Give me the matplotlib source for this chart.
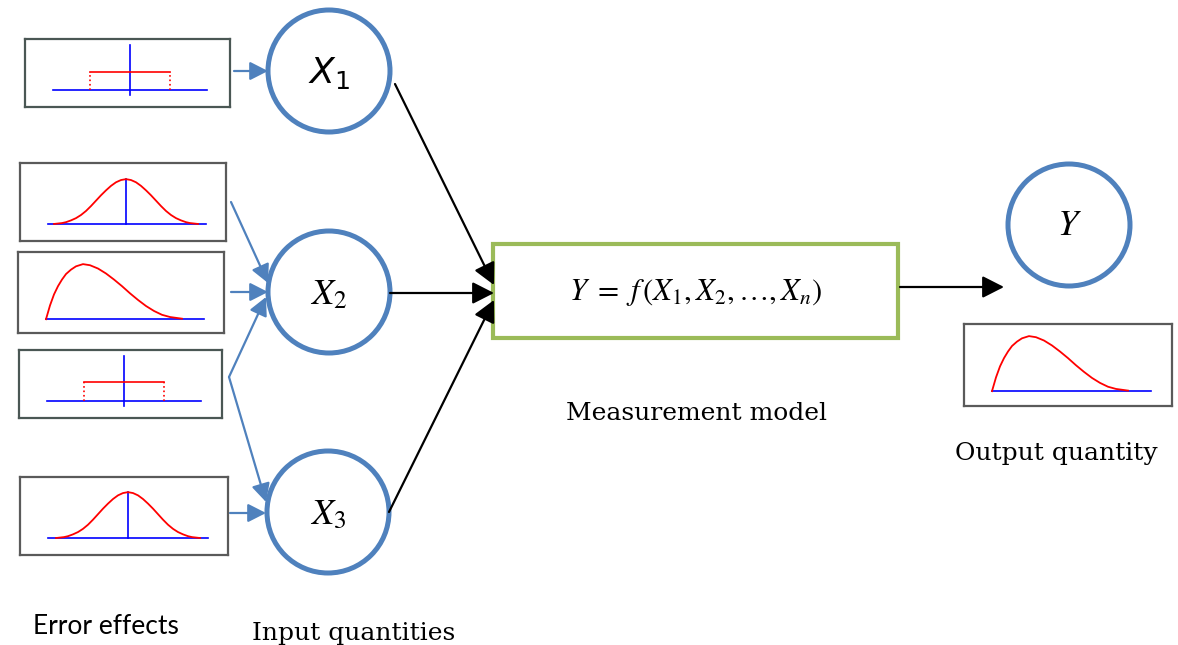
import matplotlib
matplotlib.use("Agg")
import matplotlib.pyplot as plt
from matplotlib.patches import Circle, Rectangle

W, H = 1178, 645

# distribution shapes (x in panel units, y relative to peak)
gauss_x = [-3.6, -3.2, -3.0, -2.75, -2.5, -2.25, -2.0, -1.75, -1.5, -1.25, -1.0, -0.75, -0.5, -0.25, 0.0,
           0.25, 0.5, 0.75, 1.0, 1.25, 1.5, 1.75, 2.0, 2.25, 2.5, 2.75, 3.0, 3.2, 3.6]
gauss_y = [0.0, 0.02, 0.04, 0.08, 0.13, 0.2, 0.29, 0.4, 0.52, 0.64, 0.75, 0.85, 0.93, 0.98, 1.0,
           0.98, 0.93, 0.85, 0.75, 0.64, 0.52, 0.4, 0.29, 0.2, 0.13, 0.08, 0.04, 0.02, 0.0]
skew_x = [0.0, 0.2, 0.4, 0.6, 0.8, 1.0, 1.25, 1.5, 1.85, 2.2, 2.6, 3.0, 3.4, 3.8, 4.2, 4.6, 5.0, 5.4,
          5.8, 6.2, 6.8]
skew_y = [0.0, 0.25, 0.45, 0.6, 0.72, 0.82, 0.9, 0.96, 1.0, 0.98, 0.92, 0.83, 0.72, 0.6, 0.47, 0.35,
          0.24, 0.15, 0.08, 0.04, 0.01]
uniform_half = 2.0
uniform_height = 1.0

labels_inputs = ["$X_1$", "$X_2$", "$X_3$"]
label_output = "$Y$"
model_eq = r"$Y\ =\ f\,(X_1, X_2, \ldots, X_n)$"

BLUE = "#4F81BD"
GREEN = "#9BBB59"
RED = "#FF0000"
LINEBLUE = "#0000FF"

fig = plt.figure(figsize=(W / 100, H / 100), dpi=100)
ax = fig.add_axes([0, 0, 1, 1])
ax.set_xlim(0, W)
ax.set_ylim(H, 0)
ax.axis("off")


def mini_panel(x0, y0, x1, y1, xlim, ylim, edge="#5a5a5a"):
    a = fig.add_axes([x0 / W, 1 - y1 / H, (x1 - x0) / W, (y1 - y0) / H])
    a.set_xlim(*xlim)
    a.set_ylim(*ylim)
    a.set_xticks([])
    a.set_yticks([])
    for s in a.spines.values():
        s.set_color(edge)
        s.set_linewidth(1.6)
    return a


def uniform_panel(a, base, vbar):
    a.plot(base, [0, 0], color=LINEBLUE, lw=1.2)
    a.plot([0, 0], vbar, color=LINEBLUE, lw=1.2)
    a.plot([-uniform_half, uniform_half], [uniform_height, uniform_height], color=RED, lw=1.2)
    for s in (-uniform_half, uniform_half):
        a.plot([s, s], [0, uniform_height], color=RED, lw=1.2, ls=":")


def gauss_panel(a, base):
    a.plot(base, [0, 0], color=LINEBLUE, lw=1.2)
    a.plot([0, 0], [0, 1], color=LINEBLUE, lw=1.2)
    a.plot(gauss_x, gauss_y, color=RED, lw=1.3)


def skew_panel(a, base):
    a.plot(base, [0, 0], color=LINEBLUE, lw=1.2)
    a.plot(skew_x, skew_y, color=RED, lw=1.3)


# error effect panels
p1 = mini_panel(25, 39, 230, 107, (-5.25, 5.0), (-0.94, 2.83), edge="#4a5754")
uniform_panel(p1, [-3.85, 3.85], [-0.28, 2.5])
p2 = mini_panel(20, 163, 226, 241, (-5.3, 5.0), (-0.38, 1.36))
gauss_panel(p2, [-3.9, 4.0])
p3 = mini_panel(18, 252, 224, 333, (-1.4, 8.9), (-0.25, 1.22))
skew_panel(p3, [0, 7.9])
p4 = mini_panel(19, 350, 222, 418, (-5.25, 4.9), (-0.89, 2.68), edge="#4a5754")
uniform_panel(p4, [-3.85, 3.85], [-0.26, 2.37])
p5 = mini_panel(20, 477, 228, 555, (-5.4, 5.0), (-0.37, 1.33))
gauss_panel(p5, [-4.0, 4.0])
# output panel
p6 = mini_panel(964, 324, 1172, 406, (-1.4, 9.0), (-0.27, 1.22))
skew_panel(p6, [0, 7.95])

# input / output circles
centers = [(329, 71), (329, 292), (328, 512)]
fonts = ["dejavusans", "stix", "stix"]
for (cx, cy), lab, mf in zip(centers, labels_inputs, fonts):
    ax.add_patch(Circle((cx, cy), 61, facecolor="white", edgecolor=BLUE, lw=3.6))
    ax.text(cx, cy + 2, lab, ha="center", va="center", fontsize=26, math_fontfamily=mf)
ax.add_patch(Circle((1069, 225), 61, facecolor="white", edgecolor=BLUE, lw=3.6))
ax.text(1069, 225, label_output, ha="center", va="center", fontsize=26, math_fontfamily="stix")

# measurement model box
ax.add_patch(Rectangle((493, 244), 405, 94, facecolor="white", edgecolor=GREEN, lw=3.0))
ax.text(696, 292, model_eq, ha="center", va="center", fontsize=22, math_fontfamily="stix")


def arrow(x0, y0, x1, y1, color, lw, scale):
    ax.annotate("", xy=(x1, y1), xytext=(x0, y0),
                arrowprops=dict(arrowstyle="-|>,head_length=0.55,head_width=0.28",
                                color=color, lw=lw, mutation_scale=scale,
                                shrinkA=0, shrinkB=0))


# blue arrows from error effects
arrow(234, 71, 268, 71, BLUE, 1.6, 20)
arrow(231, 202, 268, 283, BLUE, 1.6, 20)
arrow(231, 292, 268, 292, BLUE, 1.6, 20)
arrow(229, 377, 266, 297, BLUE, 1.6, 20)
arrow(229, 377, 266, 502, BLUE, 1.6, 20)
arrow(230, 513, 266, 513, BLUE, 1.6, 20)

# black arrows into and out of model
arrow(395, 84, 494, 285, "black", 1.6, 24)
arrow(390, 293, 494, 293, "black", 1.6, 24)
arrow(389, 512, 494, 300, "black", 1.6, 24)
arrow(900, 287, 1004, 287, "black", 1.6, 24)

# captions
ax.text(696, 420, "Measurement model", ha="center", va="baseline", fontsize=18, family="DejaVu Serif")
ax.text(1056, 460, "Output quantity", ha="center", va="baseline", fontsize=18, family="DejaVu Serif")
ax.text(106, 634, "Error effects", ha="center", va="baseline", fontsize=19, family=["Lato", "DejaVu Sans"])
ax.text(354, 640, "Input quantities", ha="center", va="baseline", fontsize=18, family="DejaVu Serif")

fig.savefig("out.png", dpi=100)
